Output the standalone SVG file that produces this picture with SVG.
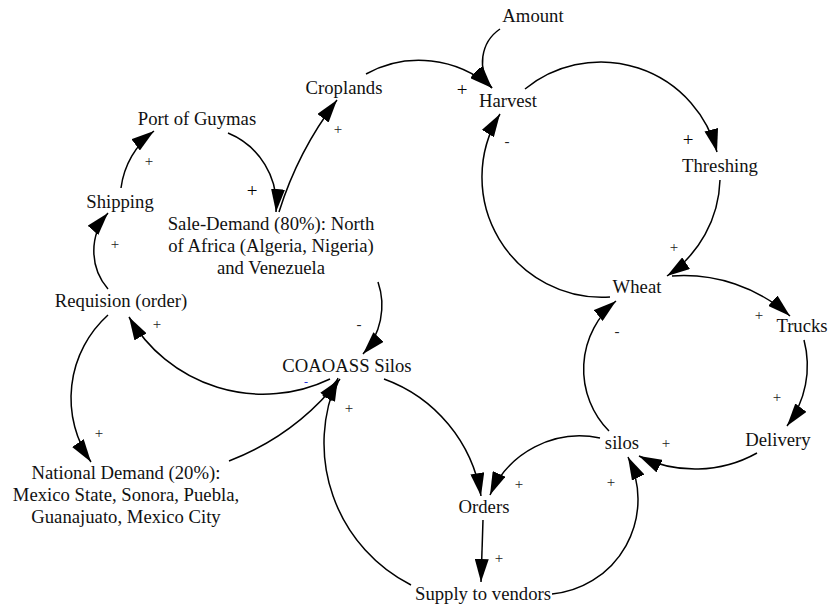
<svg xmlns="http://www.w3.org/2000/svg" width="829" height="607" viewBox="0 0 829 607">
  <style>
    .node text { font-family: "Liberation Serif", "Times New Roman", serif; font-size: 18.7px; fill: #111; text-anchor: middle; }
    .link { fill: none; stroke: #000; stroke-width: 1.5; marker-end: url(#arrow); }
    .pol { font-family: "Liberation Serif", "Times New Roman", serif; font-size: 15px; fill: #222; text-anchor: middle; }
    .pol.big { font-size: 19px; fill: #000; }
    .pol.blue { font-size: 12px; fill: #2233dd; }
  </style>
  <defs>
    <marker id="arrow" markerUnits="userSpaceOnUse" markerWidth="23" markerHeight="14" viewBox="0 0 23 14" refX="23" refY="7" orient="auto">
      <path d="M0,0 L23,7 L0,14 Z" fill="#000"/>
    </marker>
  </defs>
  <rect width="829" height="607" fill="#fff"/>

  <!-- causal links -->
  <g id="connectors">
    <path class="link" d="M500,29 A40,40 0 0 0 492,88"/>
    <path class="link" d="M366,74 A110,110 0 0 1 492,88"/>
    <path class="link" d="M525,89 A120,120 0 0 1 717,152"/>
    <path class="link" d="M720,180 A120,120 0 0 1 667,276"/>
    <path class="link" d="M610,297 A120,120 0 0 1 500,114"/>
    <path class="link" d="M672,276 A160,160 0 0 1 790,316"/>
    <path class="link" d="M804,340 A100,100 0 0 1 787,426"/>
    <path class="link" d="M757,453 A127,127 0 0 1 639,456"/>
    <path class="link" d="M609,431 A88,88 0 0 1 616,301"/>
    <path class="link" d="M600,438 A98,98 0 0 0 490,495"/>
    <path class="link" d="M384,379 A150,150 0 0 1 481,496"/>
    <path class="link" d="M483,520 L481,582"/>
    <path class="link" d="M552,594 A95,95 0 0 0 628,457"/>
    <path class="link" d="M411,585 A159,159 0 0 1 338,378"/>
    <path class="link" d="M378,282 A72,72 0 0 1 363,354"/>
    <path class="link" d="M330,379 A155,155 0 0 1 129,317"/>
    <path class="link" d="M229,461 A260,260 0 0 0 340,379"/>
    <path class="link" d="M108,315 A112,112 0 0 0 91,462"/>
    <path class="link" d="M108,289 A58,58 0 0 1 108,213"/>
    <path class="link" d="M121,188 A85,85 0 0 1 154,131"/>
    <path class="link" d="M228,133 A78,78 0 0 1 276,212"/>
    <path class="link" d="M279,212 A360,360 0 0 1 337,100"/>

    <!-- polarity marks -->
    <text class="pol big" x="462" y="96">+</text>
    <text class="pol" x="338" y="134">+</text>
    <text class="pol big" x="688" y="146">+</text>
    <text class="pol" x="674" y="252">+</text>
    <text class="pol" x="507" y="146">-</text>
    <text class="pol" x="759" y="320">+</text>
    <text class="pol" x="777" y="402">+</text>
    <text class="pol" x="666" y="448">+</text>
    <text class="pol" x="617" y="336">-</text>
    <text class="pol" x="519" y="489">+</text>
    <text class="pol" x="611" y="487">+</text>
    <text class="pol" x="499" y="563">+</text>
    <text class="pol" x="349" y="413">+</text>
    <text class="pol" x="359" y="329">-</text>
    <text class="pol" x="157" y="329">+</text>
    <text class="pol blue" x="306" y="386">-</text>
    <text class="pol" x="99" y="438">+</text>
    <text class="pol" x="115" y="249">+</text>
    <text class="pol" x="149" y="166">+</text>
    <text class="pol big" x="252" y="197">+</text>
  </g>

  <!-- variables -->
  <g id="amount" class="node"><text x="533" y="22">Amount</text></g>
  <g id="croplands" class="node"><text x="344" y="94">Croplands</text></g>
  <g id="harvest" class="node"><text x="508" y="107">Harvest</text></g>
  <g id="threshing" class="node"><text x="720" y="172">Threshing</text></g>
  <g id="wheat" class="node"><text x="637" y="293">Wheat</text></g>
  <g id="trucks" class="node"><text x="802" y="332">Trucks</text></g>
  <g id="delivery" class="node"><text x="778" y="446">Delivery</text></g>
  <g id="silos" class="node"><text x="622" y="449">silos</text></g>
  <g id="orders" class="node"><text x="484" y="513">Orders</text></g>
  <g id="supply" class="node"><text x="483" y="600">Supply to vendors</text></g>
  <g id="coaoass" class="node"><text x="347" y="372">COAOASS Silos</text></g>
  <g id="sale-demand" class="node">
    <text x="271" y="230">Sale-Demand (80%): North</text>
    <text x="271" y="252">of Africa (Algeria, Nigeria)</text>
    <text x="271" y="274">and Venezuela</text>
  </g>
  <g id="port" class="node"><text x="197" y="125">Port of Guymas</text></g>
  <g id="shipping" class="node"><text x="120" y="208">Shipping</text></g>
  <g id="requision" class="node"><text x="121" y="307">Requision (order)</text></g>
  <g id="national-demand" class="node">
    <text x="126" y="479">National Demand (20%):</text>
    <text x="126" y="501">Mexico State, Sonora, Puebla,</text>
    <text x="126" y="523">Guanajuato, Mexico City</text>
  </g>
</svg>
